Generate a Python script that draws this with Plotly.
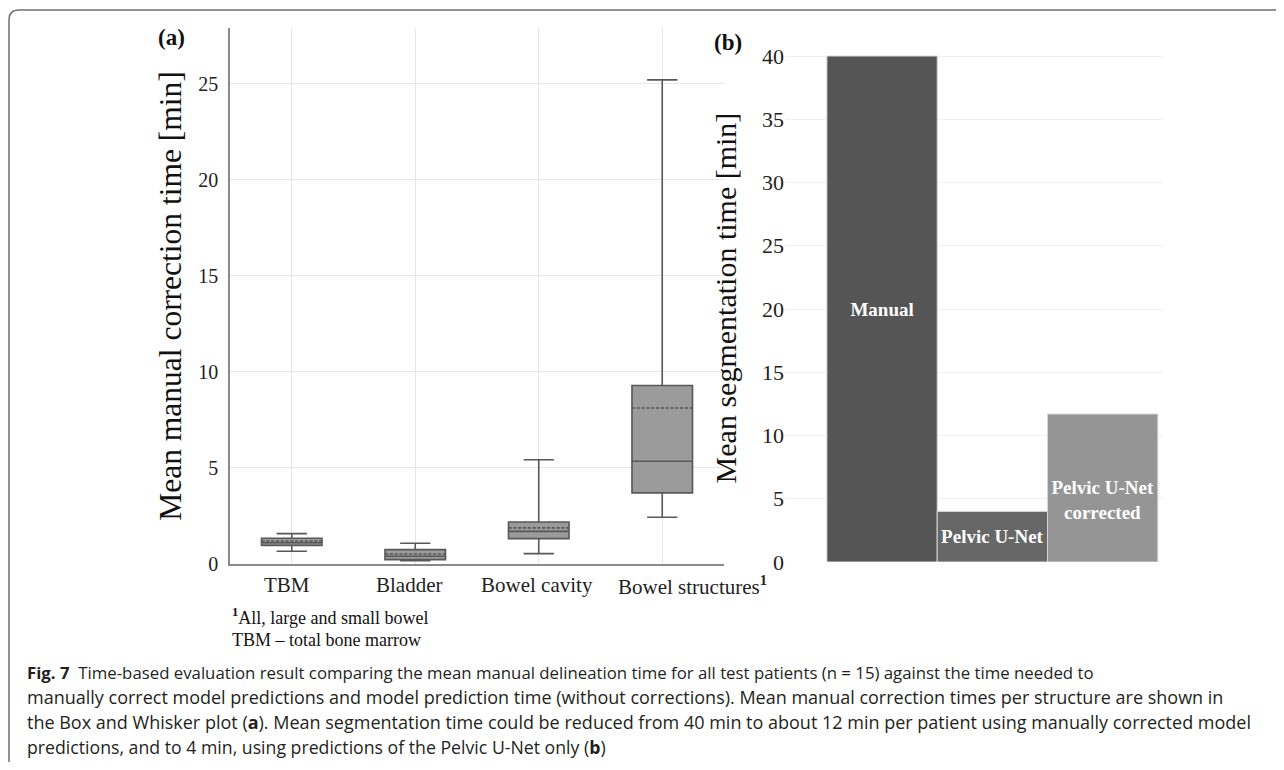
import plotly.graph_objects as go

# figure size chosen so that figure + default 8px page margin == 1284x770 window
W, H = 1268, 754
OFF = 8

# ---------------- data ----------------
box_cats = ["TBM", "Bladder", "Bowel cavity", "Bowel structures"]
box_tick_text = ["TBM", "Bladder", "Bowel cavity", "Bowel structures<b><sup>1</sup></b>"]
box_lower = [0.66, 0.17, 0.54, 2.43]
box_q1 = [0.97, 0.23, 1.32, 3.70]
box_median = [1.11, 0.40, 1.70, 5.35]
box_mean = [1.20, 0.52, 1.88, 8.12]
box_q3 = [1.34, 0.75, 2.19, 9.29]
box_upper = [1.58, 1.08, 5.43, 25.2]
box_ticks = [0, 5, 10, 15, 20, 25]

bar_cats = ["Manual", "Pelvic U-Net", "Pelvic U-Net corrected"]
bar_vals = [40.0, 4.0, 11.7]
bar_labels = ["<b>Manual</b>", "<b>Pelvic U-Net</b>",
              "\u00a0<br><b>Pelvic U-Net<br>corrected</b>"]
bar_colors = ["#555555", "#676767", "#959595"]
bar_ticks = [0, 5, 10, 15, 20, 25, 30, 35, 40]

caption_lines = [
    "<b>Fig. 7</b>  Time-based evaluation result comparing the mean manual delineation time for all test patients (n = 15) against the time needed to",
    "manually correct model predictions and model prediction time (without corrections). Mean manual correction times per structure are shown in",
    "the Box and Whisker plot (<b>a</b>). Mean segmentation time could be reduced from 40 min to about 12 min per patient using manually corrected model",
    "predictions, and to 4 min, using predictions of the Pelvic U-Net only (<b>b</b>)",
]
caption_sizes = [16.8, 18.0, 18.0, 17.7]
footnotes = ["<b><sup>1</sup></b>All, large and small bowel", "TBM \u2013 total bone marrow"]

SERIF = "Liberation Serif, Times New Roman, serif"
SANS = "Open Sans, Noto Sans, sans-serif"


def px_x(s):
    # window pixel x -> paper fraction
    return (s - OFF) / W


def px_y(s):
    return 1 - (s - OFF) / H


fig = go.Figure()

fig.add_trace(go.Box(
    x=box_cats, q1=box_q1, median=box_median, q3=box_q3,
    lowerfence=box_lower, upperfence=box_upper, mean=box_mean,
    boxmean=True, boxpoints=False, width=0.49, whiskerwidth=0.5,
    fillcolor="#9b9b9b", line=dict(color="#585858", width=1.6),
    xaxis="x", yaxis="y", showlegend=False, hoverinfo="skip",
))

fig.add_trace(go.Bar(
    x=bar_cats, y=bar_vals, width=1,
    marker=dict(color=bar_colors, line=dict(color="#d6d6d6", width=1)),
    text=bar_labels, textposition="inside", insidetextanchor="middle",
    textangle=0, constraintext="none",
    textfont=dict(family=SERIF, size=19, color="white"),
    xaxis="x2", yaxis="y2", showlegend=False, hoverinfo="skip",
))

fig.update_layout(
    width=W, height=H,
    margin=dict(l=0, r=0, t=0, b=0, autoexpand=False),
    paper_bgcolor="white", plot_bgcolor="white",
    font=dict(family=SERIF, color="#222222"),
    xaxis=dict(
        domain=[px_x(230), px_x(724)], anchor="y", automargin=False,
        type="category", range=[-0.5, 3.5],
        tickvals=box_cats, showticklabels=False,
        showgrid=True, gridcolor="#e6e6e6", gridwidth=1,
        showline=True, linecolor="#8a8a8a", linewidth=1.5,
        ticks="", zeroline=False,
    ),
    yaxis=dict(
        domain=[px_y(564), px_y(28)], anchor="x", automargin=False,
        range=[0, 27.9], tickvals=box_ticks,
        showgrid=True, gridcolor="#e6e6e6", gridwidth=1,
        showline=True, linecolor="#8a8a8a", linewidth=1.5,
        tickfont=dict(family=SERIF, size=20, color="#222222"),
        ticks="", zeroline=False, ticklabelstandoff=6,
        title=dict(text="Mean manual correction time [min]",
                   font=dict(family=SERIF, size=31.5, color="#111111"), standoff=7),
    ),
    xaxis2=dict(
        domain=[px_x(785), px_x(1163)], anchor="y2", automargin=False,
        type="category", range=[-0.88, 2.547],
        showgrid=False, showline=False, showticklabels=False, ticks="", zeroline=False,
    ),
    yaxis2=dict(
        domain=[px_y(562), px_y(34)], anchor="x2", automargin=False,
        range=[0, 41.74], tickvals=bar_ticks,
        showgrid=True, gridcolor="#f0f0f0", gridwidth=1,
        showline=False, zeroline=False, ticks="",
        tickfont=dict(family=SERIF, size=22, color="#222222"),
        title=dict(text="Mean segmentation time [min]",
                   font=dict(family=SERIF, size=30, color="#111111"), standoff=16),
    ),
)

annotations = []
# category labels of panel (a), anchored to the category axis
label_shift = [-5, -6, -2, 30]
for cat, txt, dx in zip(box_cats, box_tick_text, label_shift):
    annotations.append(dict(text=txt, x=cat, xref="x", y=px_y(585), yref="paper",
                            xshift=dx, showarrow=False, xanchor="center", yanchor="middle",
                            font=dict(family=SERIF, size=21, color="#222222")))
annotations += [
    dict(text="<b>(a)</b>", x=px_x(171), y=px_y(38), xref="paper", yref="paper",
         showarrow=False, font=dict(family=SERIF, size=23, color="#111111"),
         xanchor="center", yanchor="middle"),
    dict(text="<b>(b)</b>", x=px_x(728), y=px_y(42), xref="paper", yref="paper",
         showarrow=False, font=dict(family=SERIF, size=23, color="#111111"),
         xanchor="center", yanchor="middle"),
]
for i, t in enumerate(footnotes):
    annotations.append(dict(text=t, x=px_x(230), y=px_y(616 + 24 * i), xref="paper", yref="paper",
                            showarrow=False, xanchor="left", yanchor="middle",
                            font=dict(family=SERIF, size=18, color="#111111")))
for i, (t, sz) in enumerate(zip(caption_lines, caption_sizes)):
    annotations.append(dict(text=t, x=px_x(25), y=px_y(672 + 25 * i), xref="paper", yref="paper",
                            showarrow=False, xanchor="left", yanchor="middle",
                            font=dict(family=SANS, size=sz, color="#231f20")))
fig.update_layout(annotations=annotations)

# rounded figure frame (decoration)
L, T, R = 9, 10, 10
fig.add_shape(
    type="path", xref="paper", yref="paper",
    path=(f"M 1 {px_y(T)} L {px_x(L + R)} {px_y(T)} "
          f"Q {px_x(L)} {px_y(T)} {px_x(L)} {px_y(T + R)} "
          f"L {px_x(L)} 0"),
    line=dict(color="#707070", width=1.5),
)

fig.write_html("out.html")
